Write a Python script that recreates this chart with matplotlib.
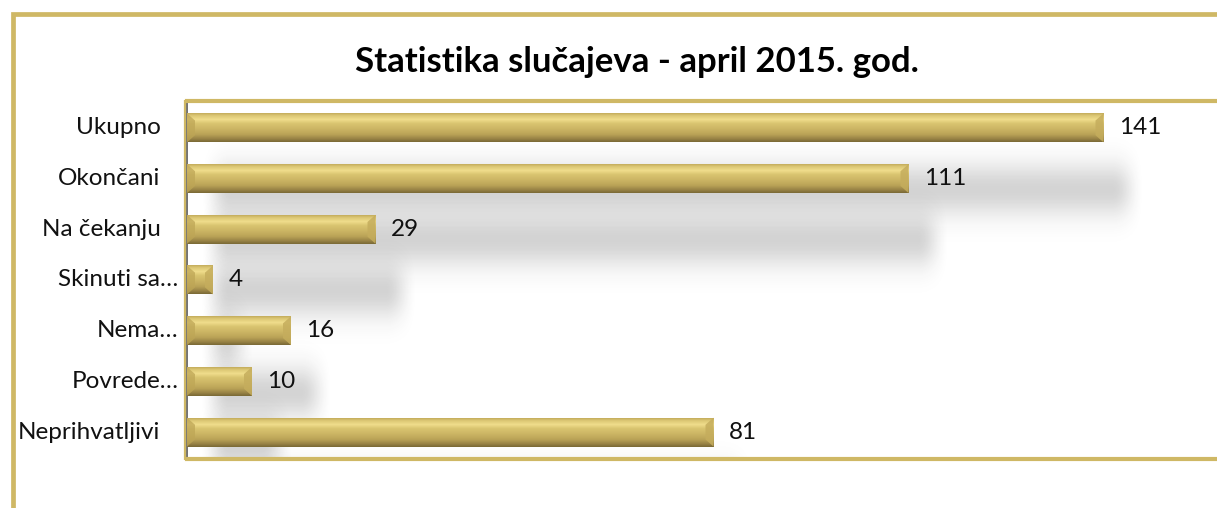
import numpy as np
import matplotlib.pyplot as plt
from matplotlib.colors import LinearSegmentedColormap
from matplotlib.patches import Polygon
from matplotlib.lines import Line2D

categories = ['Ukupno', 'Okončani', 'Na čekanju', 'Skinuti sa…', 'Nema…', 'Povrede…', 'Neprihvatljivi']
values = [141, 111, 29, 4, 16, 10, 81]
title = 'Statistika slučajeva - april 2015. god.'

W, H, DPI = 1217, 508, 100
plt.rcParams['font.family'] = ['Lato', 'DejaVu Sans']

gold = '#cfb865'
fig = plt.figure(figsize=(W / DPI, H / DPI), dpi=DPI)
fig.patch.set_facecolor('white')

# plot area: x 187..right edge, y 101..459 px
ax = fig.add_axes([187 / W, 1 - 459 / H, (W - 187) / W + 0.01, (459 - 101) / H])
ax_w_px = ax.get_position().width * W
xmax = ax_w_px / 6.5
ax.set_xlim(0, xmax)
ax.set_ylim(6.53, -0.53)
ppu = ax_w_px / xmax  # pixels per data unit

bar_h = 0.57
bev = 8 / ppu  # bevel width in data units
bev_y = 0.14

grad = LinearSegmentedColormap.from_list('goldbar', [
    (0.0, '#c4ad5c'), (0.08, '#dcc774'), (0.22, '#f0dd8c'), (0.36, '#d9c470'),
    (0.55, '#ccb564'), (0.75, '#b9a256'), (0.9, '#978145'), (1.0, '#7a6a36')])
col = np.linspace(0, 1, 64).reshape(-1, 1)

for i, v in enumerate(values):
    # soft shadow below/right of each bar
    sx0, sx1 = 12 / ppu, v + 42 / ppu
    nx, ny = 300, 100
    xs = np.linspace(sx0, sx1, nx)
    ramp_in = np.clip((xs - sx0) / (30 / ppu), 0, 1)
    ramp_out = np.clip((sx1 - xs) / (32 / ppu), 0, 1)
    ax_prof = ramp_in * ramp_out
    ax_prof = ax_prof * ax_prof * (3 - 2 * ax_prof)
    ys = np.linspace(-1, 1, ny)
    ay_prof = np.exp(-(ys / 0.42) ** 2)
    alpha = 0.2 * np.outer(ay_prof, ax_prof)
    rgba = np.zeros((ny, nx, 4))
    rgba[..., :3] = 0.15
    rgba[..., 3] = alpha
    yc = i + 62 / 50.7
    ax.imshow(rgba, extent=(sx0, sx1, yc + 1.25, yc - 1.25), origin='upper',
              aspect='auto', interpolation='bilinear', zorder=1)

for i, v in enumerate(values):
    y0, y1 = i - bar_h / 2, i + bar_h / 2
    ax.imshow(col, cmap=grad, extent=(0, v, y1, y0), origin='upper',
              aspect='auto', interpolation='bilinear', zorder=3)
    b = min(bev, v / 2.2)
    ax.add_patch(Polygon([(v, y0), (v - b, y0 + bev_y), (v - b, y1 - bev_y), (v, y1)],
                         closed=True, facecolor='#c5ad5d', alpha=0.85, edgecolor='none', zorder=4))
    ax.add_patch(Polygon([(0, y0), (b, y0 + bev_y), (b, y1 - bev_y), (0, y1)],
                         closed=True, facecolor='#bea656', alpha=0.75, edgecolor='none', zorder=4))
    ax.annotate(str(v), xy=(v, i), xytext=(11, 0), textcoords='offset points',
                ha='left', va='center', fontsize=17.5, color='#111111', zorder=5)
    pad = 6 if categories[i].endswith('…') else 19
    ax.annotate(categories[i], xy=(0, i), xycoords=('axes fraction', 'data'),
                xytext=(-pad, 0), textcoords='offset points',
                ha='right', va='center', fontsize=17.5, color='#111111')

ax.set_xticks([])
ax.set_yticks([])
for s in ['top', 'bottom']:
    ax.spines[s].set_color(gold)
    ax.spines[s].set_linewidth(3.0)
ax.spines['right'].set_visible(False)
ax.spines['left'].set_color('#666666')
ax.spines['left'].set_linewidth(1.3)

# gold edge left of the axis line
fig.add_artist(Line2D([184.5 / W, 184.5 / W], [1 - 460 / H, 1 - 100 / H],
                      color=gold, lw=1.6, solid_capstyle='butt'))

# outer chart frame
fig.add_artist(Line2D([12.5 / W, 12.5 / W, 1.0], [0.0, 1 - 14 / H, 1 - 14 / H],
                      color=gold, lw=3.4, solid_joinstyle='miter'))

fig.text(637 / W, 1 - 62 / H, title, ha='center', va='center',
         fontsize=25, fontweight='bold', color='black')

fig.savefig('out.png', dpi=DPI)
